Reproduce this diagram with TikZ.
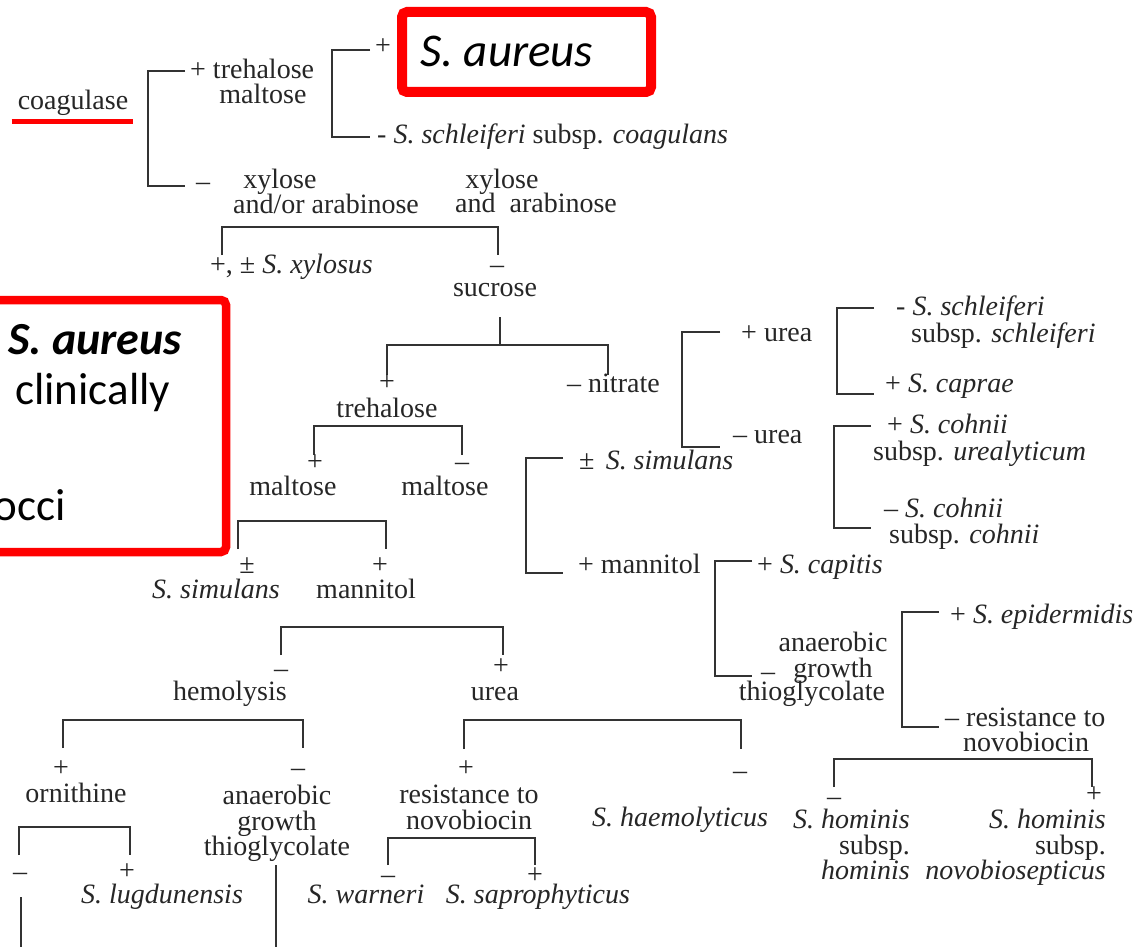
\documentclass[tikz,border=0pt]{standalone}
\usepackage{fontspec}
\setmainfont{Liberation Serif}
\newfontfamily\calibri{Carlito}
\usetikzlibrary{positioning}

\begin{document}
\begin{tikzpicture}[x=1pt,y=-1pt,
  lbl/.style={inner sep=0pt,text height=19pt,text depth=5.5pt,text=black!85,font=\fontsize{28}{25.5}\selectfont},
  sgn/.style={lbl,text height=14pt,text depth=0pt},
  blk/.style={inner sep=0pt,anchor=north,align=center,text=black!85,font=\fontsize{28}{25.5}\selectfont},
  br/.style={draw=black!80,line width=2.2pt},
  hibox/.style={draw=red,line width=10pt,rounded corners=5pt,inner sep=0pt,outer sep=0pt},
  hitxt/.style={inner sep=0pt,anchor=base west,font=\calibri\fontsize{45}{55}\selectfont}]
  \useasboundingbox (0,0) rectangle (1138,947);
  % ---------- coagulase
  \node[lbl] (coag) at (73,103) {coagulase};
  \draw[red,line width=5pt] ([xshift=-6pt,yshift=-6pt]coag.south west) -- ([xshift=5pt,yshift=-6pt]coag.south east);
  \coordinate (coagP) at (185,71); \coordinate (coagM) at (185,186);
  \draw[br] (coagP) -- ++(-37,0) |- (coagM);
  \node[lbl,anchor=west] (treP) at (190,72) {+ trehalose};
  \node[lbl] (malt0) at (263,97) {maltose};
  \coordinate (aurP) at (370,50); \coordinate (schM) at (370,137);
  \draw[br] (aurP) -- ++(-38,0) |- (schM);
  \node[sgn] (aurS) at (383,48) {+};
  \node[hibox,minimum width=249pt,minimum height=80pt] (aurBox) at (526.5,52) {};
  \node[hitxt,font=\calibri\itshape\fontsize{47}{55}\selectfont] (aur1) at (420,67) {S. aureus};
  \node[lbl,anchor=west] (schC) at (377,137) {- \textit{S. schleiferi} subsp. \textit{coagulans}};
  % ---------- xylose / arabinose
  \node[sgn] (xylM) at (203,183) {–};
  \node[lbl] (xyl1) at (280,182) {xylose};
  \node[lbl] (xyl2) at (326,207) {and/or arabinose};
  \node[lbl] (xyl3) at (502,182) {xylose};
  \node[lbl] (xyl4) at (536,206) {and\ \ arabinose};
  \coordinate (xylL) at (222,255); \coordinate (xylR) at (498,255);
  \draw[br] (xylL) -- ++(0,-28) -| (xylR);
  \node[lbl,anchor=west] (xylos) at (210,267) {+, ± \textit{S. xylosus}};
  \node[sgn] (sucM) at (497,266) {–};
  \node[lbl] (sucr) at (495,290) {sucrose};
  % ---------- sucrose
  \coordinate (sucTop) at (500,317);
  \draw[br] (sucTop) -- ++(0,28);
  \coordinate (treL) at (387,375); \coordinate (nitR) at (608,375);
  \draw[br] (treL) -- ++(0,-30) -| (nitR);
  \node[sgn] (treS) at (387,383) {+};
  \node[lbl] (tre2) at (387,411) {trehalose};
  \node[lbl,anchor=west] (nitr) at (567,386) {– nitrate};
  \coordinate (malL) at (314,455); \coordinate (malR) at (462,455);
  \draw[br] (malL) -- ++(0,-29) -| (malR);
  \node[sgn] (malS1) at (315,463) {+};
  \node[lbl] (mal1) at (293,489) {maltose};
  \node[sgn] (malS2) at (462,463) {–};
  \node[lbl] (mal2) at (445,489) {maltose};
  \coordinate (simL) at (238,549); \coordinate (manR) at (386,549);
  \draw[br] (simL) -- ++(0,-28) -| (manR);
  \node[sgn] (simS) at (247,566) {±};
  \node[sgn] (manS) at (380,566) {+};
  \node[lbl] (sim1) at (216,592) {\textit{S. simulans}};
  \node[lbl] (man1) at (366,592) {mannitol};
  % ---------- mannitol
  \coordinate (hemL) at (281,655); \coordinate (ureR) at (503,655);
  \draw[br] (hemL) -- ++(0,-28) -| (ureR);
  \node[sgn] (hemS) at (281,670) {–};
  \node[lbl] (hem) at (230,694) {hemolysis};
  \node[sgn] (ureS) at (501,667) {+};
  \node[lbl] (ure1) at (495,694) {urea};
  \coordinate (ornL) at (63,748); \coordinate (anaR) at (303,748);
  \draw[br] (ornL) -- ++(0,-28) -| (anaR);
  \node[sgn] (ornS) at (61,769) {+};
  \node[lbl] (orn) at (76,796) {ornithine};
  \node[sgn] (anaS) at (298,769) {–};
  \node[blk] (ana1) at (277,785) {anaerobic\\growth\\thioglycolate};
  \coordinate (lugL) at (19,855); \coordinate (lugR) at (130,855);
  \draw[br] (lugL) -- ++(0,-28) -| (lugR);
  \node[sgn] (lugS1) at (20,873) {–};
  \node[sgn] (lugS2) at (127,872) {+};
  \node[lbl] (lug) at (162,897) {\textit{S. lugdunensis}};
  \coordinate (lugD) at (21,897); \draw[br] (lugD) -- ++(0,60);
  \coordinate (anaD) at (276,865); \draw[br] (anaD) -- ++(0,90);
  \coordinate (novL) at (464,749); \coordinate (haeR) at (741,749);
  \draw[br] (novL) -- ++(0,-29) -| (haeR);
  \node[sgn] (novS) at (466,769) {+};
  \node[blk] (nov1) at (469,785) {resistance to\\novobiocin};
  \node[sgn] (haeS) at (740,772) {–};
  \node[lbl] (hae) at (680,820) {\textit{S. haemolyticus}};
  \coordinate (warL) at (388,865); \coordinate (sapR) at (535,865);
  \draw[br] (warL) -- ++(0,-27) -| (sapR);
  \node[sgn] (warS) at (388,876) {–};
  \node[sgn] (sapS) at (535,876) {+};
  \node[lbl] (war) at (366,897) {\textit{S. warneri}};
  \node[lbl] (sap) at (538,897) {\textit{S. saprophyticus}};
  % ---------- nitrate
  \coordinate (ureP) at (720,332); \coordinate (ureM) at (720,447);
  \draw[br] (ureP) -- ++(-38,0) |- (ureM);
  \node[lbl,anchor=west] (ure2) at (741,335) {+ urea};
  \node[lbl,anchor=west] (ure3) at (733,437) {– urea};
  \coordinate (sscP) at (874,308); \coordinate (capM) at (874,394);
  \draw[br] (sscP) -- ++(-37,0) |- (capM);
  \node[lbl,anchor=west] (ssc1) at (896,309) {- \textit{S. schleiferi}};
  \node[lbl,anchor=west] (ssc2) at (911,336) {subsp. \textit{schleiferi}};
  \node[lbl,anchor=west] (cap) at (885,386) {+ \textit{S. caprae}};
  \coordinate (cohP) at (871,426); \coordinate (cohM) at (871,528);
  \draw[br] (cohP) -- ++(-37,0) |- (cohM);
  \node[lbl,anchor=west] (coh1) at (887,427) {+ \textit{S. cohnii}};
  \node[lbl,anchor=west] (coh2) at (873,454) {subsp. \textit{urealyticum}};
  \node[lbl,anchor=west] (coh3) at (884,511) {– \textit{S. cohnii}};
  \node[lbl,anchor=west] (coh4) at (889,537) {subsp. \textit{cohnii}};
  \coordinate (simP) at (563,458); \coordinate (manM) at (563,573);
  \draw[br] (simP) -- ++(-37,0) |- (manM);
  \node[lbl,anchor=west] (sim2) at (579,463) {±\hspace{0.4em}\textit{S. simulans}};
  \node[lbl,anchor=west] (man2) at (578,567) {+ mannitol};
  \coordinate (cpsP) at (752,561); \coordinate (anaM) at (752,676);
  \draw[br] (cpsP) -- ++(-37,0) |- (anaM);
  \node[lbl,anchor=west] (cps) at (757,567) {+ \textit{S. capitis}};
  \node[sgn] (anaS2) at (768,673) {–};
  \node[blk] (ana2) at (833,632) {anaerobic\\growth};
  \node[lbl] (ana3) at (812,694) {thioglycolate};
  \coordinate (epiP) at (939,612); \coordinate (resM) at (939,727);
  \draw[br] (epiP) -- ++(-37,0) |- (resM);
  \node[lbl,anchor=west] (epi) at (950,617) {+ \textit{S. epidermidis}};
  \node[lbl,anchor=west] (res2) at (945,720) {– resistance to};
  \node[lbl] (nov2) at (1026,745) {novobiocin};
  \coordinate (homL) at (834,787); \coordinate (homR) at (1092,787);
  \draw[br] (homL) -- ++(0,-28) -| (homR);
  \node[sgn] (homS1) at (834,798) {–};
  \node[sgn] (homS2) at (1094,795) {+};
  \node[blk,anchor=north east,align=right] (hom1) at (910,809) {\textit{S. hominis}\\subsp.\\\textit{hominis}};
  \node[blk,anchor=north east,align=right] (hom2) at (1106,809) {\textit{S. hominis}\\subsp.\\\textit{novobiosepticus}};
  % ---------- note box
  \node[hibox,line width=8.5pt,minimum width=260pt,minimum height=252pt,anchor=north east] (noteBox) at (226,300) {};
  \node[hitxt,font=\calibri\bfseries\itshape\fontsize{46}{55}\selectfont] (aur2) at (8,354) {S. aureus};
  \node[hitxt] (cli) at (15,404) {clinically};
  \node[hitxt,anchor=base east] (occ) at (66,520) {occi};
\end{tikzpicture}
\end{document}
